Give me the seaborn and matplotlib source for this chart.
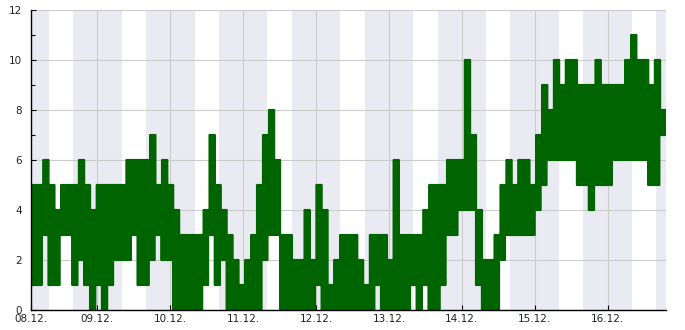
import matplotlib
matplotlib.use("Agg")
import matplotlib.pyplot as plt
import matplotlib.dates as mdates
from matplotlib.ticker import MultipleLocator, FixedLocator
import seaborn as sns
import pandas as pd

# ---- data (~2 h bins, low/high level inside each bin) ----
series_start = "2023-12-08 02:04"
series_end = "2023-12-16 19:12"
low_levels = [1, 1, 3, 1, 1, 3, 3, 1, 2, 1, 0, 1, 0, 1, 2, 2, 2, 3, 1, 1,
              2, 3, 2, 2, 0, 0, 0, 0, 0, 1, 3, 1, 2, 0, 0, 0, 0, 0, 0, 2,
              3, 3, 0, 0, 0, 0, 0, 0, 1, 0, 0, 0, 0, 0, 0, 0, 0, 0, 1, 0,
              0, 0, 0, 0, 1, 0, 1, 0, 0, 1, 3, 3, 4, 4, 4, 1, 0, 0, 0, 2,
              3, 3, 3, 3, 3, 4, 5, 6, 6, 6, 6, 6, 5, 5, 4, 5, 5, 5, 6, 6,
              6, 6, 6, 6, 5, 5, 7]
high_levels = [5, 5, 6, 5, 4, 5, 5, 5, 6, 5, 4, 5, 5, 5, 5, 5, 6, 6, 6, 6,
               7, 5, 6, 5, 4, 3, 3, 3, 3, 4, 7, 5, 4, 3, 2, 1, 2, 3, 5, 7,
               8, 6, 3, 3, 2, 2, 4, 2, 5, 4, 1, 2, 3, 3, 3, 2, 1, 3, 3, 3,
               2, 6, 3, 3, 3, 3, 4, 5, 5, 5, 6, 6, 6, 10, 7, 4, 2, 2, 3, 5,
               6, 5, 6, 6, 5, 7, 9, 8, 10, 9, 10, 10, 9, 9, 9, 10, 9, 9, 9, 9,
               10, 11, 10, 10, 9, 10, 8]
day_tick_labels = ["08.12.", "09.12.", "10.12.", "11.12.", "12.12.",
                   "13.12.", "14.12.", "15.12.", "16.12."]
off_hours = (16, 8)  # shaded period: from 16:00 until 08:00 next day
readings_per_bin = 4  # the counter flips between its low and high level several times per bin

# ---- build the sample sequence (alternating low/high within each bin) ----
vals = []
for lo, hi in zip(low_levels, high_levels):
    vals.extend([lo, hi] * readings_per_bin)
times = pd.date_range(series_start, series_end, periods=len(vals) + 1)
vals = vals + [vals[-1]]
df = pd.DataFrame({"time": times, "value": vals})

sns.set_theme(style="whitegrid")
plt.rcParams["font.family"] = ["DejaVu Sans"]

fig = plt.figure(figsize=(6.85, 3.30), dpi=100)
ax = fig.add_axes([0.0448, 0.0606, 0.9275, 0.9091])
ax.set_facecolor("white")

t0 = times[0]
t1 = times[-1]

# shaded off-hour bands
day = pd.Timestamp(t0.normalize()) - pd.Timedelta(days=1)
while day <= t1:
    s = day + pd.Timedelta(hours=off_hours[0])
    e = day + pd.Timedelta(days=1, hours=off_hours[1])
    ax.axvspan(s, e, color="#eaeaf2", lw=0, zorder=0)
    day += pd.Timedelta(days=1)

sns.lineplot(data=df, x="time", y="value", ax=ax, color="#006400",
             drawstyle="steps-post", lw=1.6, zorder=3, estimator=None)

ax.set_xlim(t0, t1)
ax.set_ylim(0, 12)
ax.set_xlabel("")
ax.set_ylabel("")

# ticks
midnights = pd.date_range(t0.normalize() + pd.Timedelta(days=1), t1, freq="D")
tick_pos = [t0] + list(midnights)
ax.xaxis.set_major_locator(FixedLocator(mdates.date2num(tick_pos)))
ax.set_xticklabels(day_tick_labels[:len(tick_pos)])
ax.yaxis.set_major_locator(MultipleLocator(2))
ax.yaxis.set_minor_locator(MultipleLocator(1))

ax.grid(True, which="major", color="#cccccc", lw=0.8, zorder=0.5)
ax.grid(False, which="minor")
ax.set_axisbelow(True)

for side in ["top", "right"]:
    ax.spines[side].set_visible(False)
for side in ["left", "bottom"]:
    ax.spines[side].set_visible(True)
    ax.spines[side].set_color("black")
    ax.spines[side].set_linewidth(1.0)
    ax.spines[side].set_zorder(5)

ax.tick_params(axis="both", which="both", direction="in", color="black",
               labelsize=7.5, labelcolor="#222222", width=0.8)
ax.tick_params(axis="both", which="major", length=3.5)
ax.tick_params(axis="y", which="minor", length=3, left=True)
ax.tick_params(axis="x", which="major", bottom=True, pad=3)
ax.tick_params(axis="y", which="major", left=True, pad=6.5)

fig.savefig("out.png", dpi=100)
